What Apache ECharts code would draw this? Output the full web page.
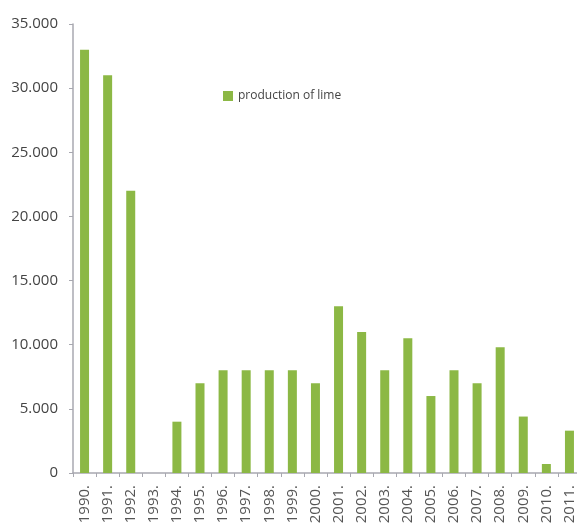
<!DOCTYPE html>
<html>
<head>
<meta charset="utf-8">
<script src="https://cdn.jsdelivr.net/npm/echarts@6/dist/echarts.min.js"></script>
<style>
  html, body { margin: 0; padding: 0; background: #fff; }
  #grafico { width: 577px; height: 523px; }
</style>
</head>
<body>
<div id="grafico"></div>
<script>
var anos = ['1990.', '1991.', '1992.', '1993.', '1994.', '1995.', '1996.', '1997.', '1998.', '1999.', '2000.',
    '2001.', '2002.', '2003.', '2004.', '2005.', '2006.', '2007.', '2008.', '2009.', '2010.', '2011.'];
var producaoCal = [33000, 31000, 22000, 0, 4000, 7000, 8000, 8000, 8000, 8000, 7000,
    13000, 11000, 8000, 10500, 6000, 8000, 7000, 9800, 4400, 700, 3300];
var nomeSerie = 'production of lime';

var dom = document.getElementById('grafico');
var chart = echarts.init(dom, null, { renderer: 'canvas' });

chart.setOption({
    animation: false,
    textStyle: { fontFamily: 'Open Sans' },
    legend: {
        left: 218,
        top: 85,
        icon: 'rect',
        itemWidth: 10,
        itemHeight: 10,
        itemGap: 4,
        itemStyle: { borderWidth: 0 },
        textStyle: { color: '#444', fontSize: 12, fontFamily: 'Open Sans' },
        data: [nomeSerie]
    },
    grid: {
        left: 73,
        right: -4,
        top: 24,
        bottom: 50,
        containLabel: false,
        outerBoundsMode: 'none'
    },
    xAxis: {
        type: 'category',
        data: anos,
        axisLine: { lineStyle: { color: '#a8a8b0', width: 1.5 } },
        axisTick: { show: true, length: 4, lineStyle: { color: '#a8a8b0' } },
        axisLabel: {
            interval: 0,
            rotate: 90,
            margin: 12,
            color: '#555',
            fontSize: 15,
            fontFamily: 'Open Sans'
        }
    },
    yAxis: {
        type: 'value',
        min: 0,
        max: 35000,
        interval: 5000,
        axisLine: { show: true, lineStyle: { color: '#a8a8b0', width: 1.5 } },
        axisTick: { show: true, length: 4, lineStyle: { color: '#a8a8b0' } },
        splitLine: { show: false },
        axisLabel: {
            color: '#444',
            fontSize: 15,
            margin: 15,
            fontFamily: 'Open Sans',
            formatter: function (v) {
                return v === 0 ? '0' : String(v).replace(/\B(?=(\d{3})+(?!\d))/g, '.');
            }
        }
    },
    series: [
        {
            name: nomeSerie,
            type: 'bar',
            barWidth: 9,
            itemStyle: {
                color: '#8cb845'
            },
            data: producaoCal
        }
    ]
});

window.addEventListener('resize', chart.resize);
</script>
</body>
</html>
